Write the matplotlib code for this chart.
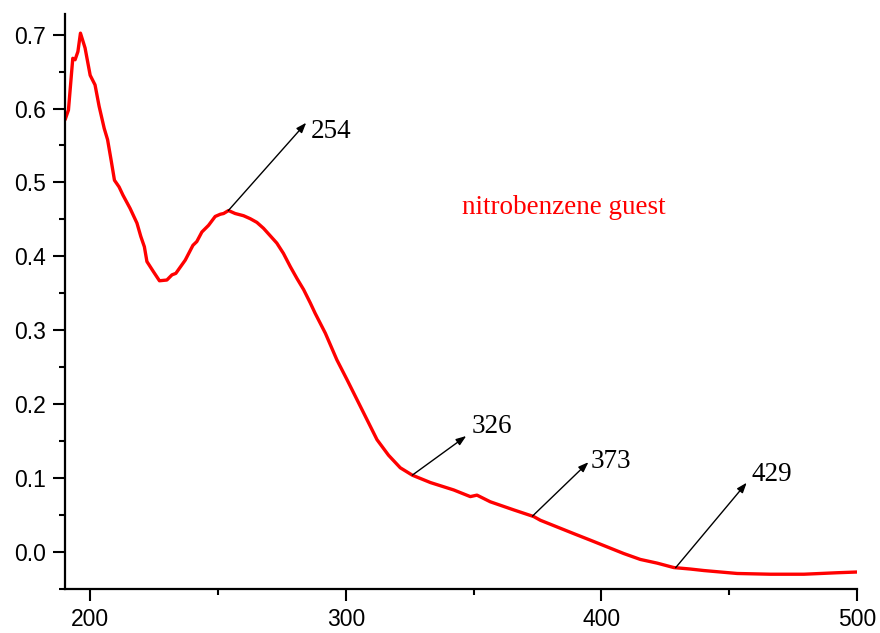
import matplotlib
matplotlib.use("Agg")
import matplotlib.pyplot as plt
import numpy as np
from matplotlib.ticker import MultipleLocator

# UV-Vis absorption spectrum (wavelength in nm, absorbance)
wavelength = [190.2, 191.5, 193.2, 194.1, 195.2, 196.2, 198.0, 200.0, 201.9, 203.5,
              205.5, 206.8, 208.2, 209.5, 211.3, 212.8, 215.6, 218.3, 219.8, 221.2,
              222.2, 224.8, 227.1, 230.0, 232.0, 233.5, 237.2, 240.2, 241.7, 243.7,
              246.3, 248.9, 250.9, 252.2, 254.1, 256.7, 260.0, 262.6, 265.2, 267.8,
              270.4, 273.0, 275.6, 278.3, 280.9, 283.5, 286.1, 288.0, 292.0, 296.5,
              300.5, 304.4, 308.3, 312.2, 316.7, 321.3, 326.0, 333.1, 342.2, 348.7,
              351.3, 356.5, 365.7, 373.5, 376.1, 382.6, 389.1, 395.7, 402.2, 408.7,
              415.2, 421.8, 428.3, 434.8, 440.0, 453.1, 466.1, 479.2, 492.2, 500.0]
absorbance = [0.585, 0.598, 0.668, 0.666, 0.677, 0.702, 0.682, 0.645, 0.632, 0.603,
              0.573, 0.558, 0.530, 0.503, 0.494, 0.483, 0.465, 0.445, 0.427, 0.413,
              0.393, 0.379, 0.367, 0.368, 0.375, 0.377, 0.395, 0.415, 0.420, 0.433,
              0.442, 0.454, 0.457, 0.458, 0.462, 0.458, 0.455, 0.451, 0.446, 0.438,
              0.428, 0.418, 0.404, 0.386, 0.370, 0.355, 0.337, 0.323, 0.296, 0.260,
              0.233, 0.206, 0.179, 0.152, 0.131, 0.114, 0.104, 0.094, 0.084, 0.075,
              0.077, 0.068, 0.057, 0.048, 0.043, 0.034, 0.025, 0.016, 0.007, -0.002,
              -0.010, -0.015, -0.021, -0.023, -0.025, -0.029, -0.030, -0.030, -0.028,
              -0.027]

peaks = [254, 326, 373, 429]
peak_labels = ["254", "326", "373", "429"]
series_label = "nitrobenzene guest"

# arrow tip offsets from the curve, and label anchors (data coords)
tip_offsets = [(30.5, 0.119), (21.1, 0.053), (21.9, 0.073), (27.8, 0.115)]
label_pos = [(286.2, 0.560), (349.1, 0.161), (395.7, 0.114), (458.7, 0.096)]

fig = plt.figure(figsize=(8.8, 6.33), dpi=100)
ax = fig.add_axes([0.074, 0.0695, 0.9, 0.9085])

ax.plot(wavelength, absorbance, color="#ff0000", lw=2.4,
        solid_joinstyle="round", solid_capstyle="round")

peak_y = np.interp(peaks, wavelength, absorbance)
for x0, y0, (dx, dy), txt, (tx, ty) in zip(peaks, peak_y, tip_offsets, peak_labels, label_pos):
    ax.annotate("", xy=(x0 + dx, y0 + dy), xytext=(x0, y0),
                arrowprops=dict(arrowstyle="-|>,head_length=0.6,head_width=0.22",
                                color="black", lw=1.0, shrinkA=0, shrinkB=0))
    ax.text(tx, ty, txt, family="Liberation Serif", fontsize=19.5,
            ha="left", va="baseline", color="black")

ax.text(345.4, 0.458, series_label, family="Liberation Serif", fontsize=19.5,
        color="#ff0000", ha="left", va="baseline")

ax.set_xlim(190.2, 500)
ax.set_ylim(-0.05, 0.728)
ax.xaxis.set_major_locator(MultipleLocator(100))
ax.xaxis.set_minor_locator(MultipleLocator(50))
ax.yaxis.set_major_locator(MultipleLocator(0.1))
ax.yaxis.set_minor_locator(MultipleLocator(0.05))
ax.yaxis.set_major_formatter(plt.FuncFormatter(lambda v, p: f"{v:.1f}"))

for side in ("top", "right"):
    ax.spines[side].set_visible(False)
for side in ("left", "bottom"):
    ax.spines[side].set_linewidth(1.6)

ax.tick_params(which="major", direction="out", length=8.5, width=1.5, pad=5,
               labelsize=16.5)
ax.tick_params(which="minor", direction="out", length=4.5, width=1.5)
for lab in ax.get_xticklabels() + ax.get_yticklabels():
    lab.set_family("Liberation Sans")

fig.savefig("out.png", dpi=100)
